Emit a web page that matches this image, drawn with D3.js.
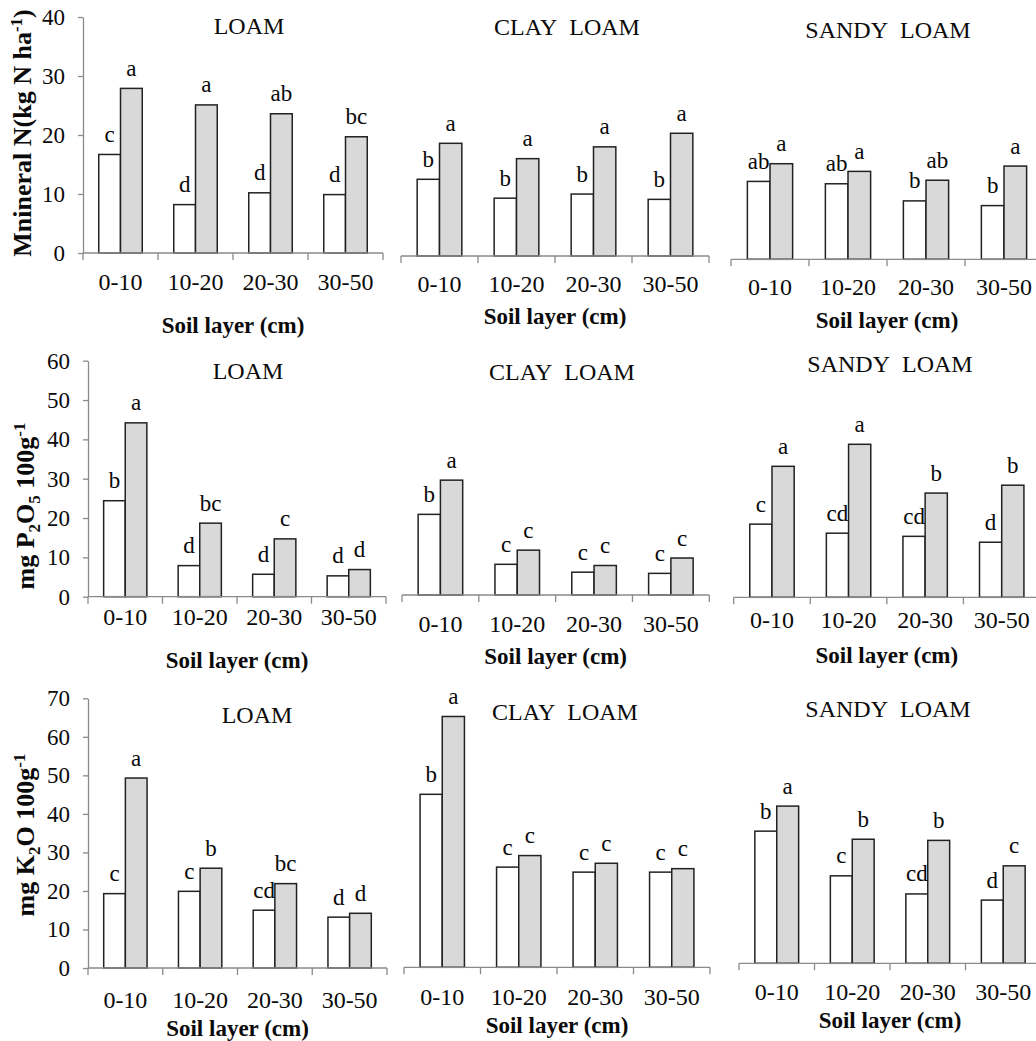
<!DOCTYPE html>
<html>
<head>
<meta charset="utf-8">
<script src="https://cdn.jsdelivr.net/npm/d3@7"></script>
<style>
  body { margin: 0; background: #fff; }
  text, tspan { font-family: "Liberation Serif", "Times New Roman", serif; fill: #0a0a0a; }
</style>
</head>
<body>
<svg id="chart" width="1036" height="1041"></svg>
<script>
// Soil layers (x categories) and soil textures (panel columns)
const layers = ["0-10", "10-20", "20-30", "30-50"];
const soils = ["LOAM", "CLAY\u00A0\u00A0LOAM", "SANDY\u00A0\u00A0LOAM"];

// Mineral N (kg N ha-1): open bars / shaded bars, with significance letters
const nLoamOpen   = [16.7, 8.2, 10.2, 9.9];
const nLoamShaded = [27.9, 25.1, 23.6, 19.7];
const nClayOpen   = [13.0, 9.8, 10.5, 9.6];
const nClayShaded = [19.1, 16.5, 18.5, 20.8];
const nSandyOpen   = [13.2, 12.8, 9.9, 9.1];
const nSandyShaded = [16.2, 14.9, 13.4, 15.8];
const nLoamOpenLbl = ["c", "d", "d", "d"],   nLoamShadedLbl = ["a", "a", "ab", "bc"];
const nClayOpenLbl = ["b", "b", "b", "b"],   nClayShadedLbl = ["a", "a", "a", "a"];
const nSandyOpenLbl = ["ab", "ab", "b", "b"], nSandyShadedLbl = ["a", "a", "ab", "a"];

// P2O5 (mg 100 g-1)
const pLoamOpen   = [24.4, 7.9, 5.7, 5.3];
const pLoamShaded = [44.2, 18.7, 14.7, 6.9];
const pClayOpen   = [20.5, 7.8, 5.8, 5.5];
const pClayShaded = [29.2, 11.4, 7.5, 9.4];
const pSandyOpen   = [18.6, 16.3, 15.5, 14.0];
const pSandyShaded = [33.3, 38.9, 26.5, 28.5];
const pLoamOpenLbl = ["b", "d", "d", "d"],    pLoamShadedLbl = ["a", "bc", "c", "d"];
const pClayOpenLbl = ["b", "c", "c", "c"],    pClayShadedLbl = ["a", "c", "c", "c"];
const pSandyOpenLbl = ["c", "cd", "cd", "d"], pSandyShadedLbl = ["a", "a", "b", "b"];

// K2O (mg 100 g-1)
const kLoamOpen   = [19.3, 19.9, 15.0, 13.2];
const kLoamShaded = [49.3, 25.9, 21.9, 14.2];
const kClayOpen   = [44.9, 26.0, 24.7, 24.7];
const kClayShaded = [65.1, 29.0, 27.0, 25.6];
const kSandyOpen   = [34.3, 22.7, 18.0, 16.4];
const kSandyShaded = [40.8, 32.2, 31.9, 25.3];
const kLoamOpenLbl = ["c", "c", "cd", "d"],   kLoamShadedLbl = ["a", "b", "bc", "d"];
const kClayOpenLbl = ["b", "c", "c", "c"],    kClayShadedLbl = ["a", "c", "c", "c"];
const kSandyOpenLbl = ["b", "c", "cd", "d"],  kSandyShadedLbl = ["a", "b", "b", "c"];

// Y-axis tick values per row
const nTicks = [0, 10, 20, 30, 40];
const pTicks = [0, 10, 20, 30, 40, 50, 60];
const kTicks = [0, 10, 20, 30, 40, 50, 60, 70];

const SERIF = "Liberation Serif, Times New Roman, serif";

// Row definitions: value range, plot height and the three panels' frames
const rows = [
  {
    yMax: 40, ticks: nTicks, h: 236,
    label: [{t: "Mnineral N(kg N ha"}, {t: "-1", sup: true}, {t: ")"}], labelPos: [31, 133],
    series: [
      [nLoamOpen, nLoamShaded, nLoamOpenLbl, nLoamShadedLbl],
      [nClayOpen, nClayShaded, nClayOpenLbl, nClayShadedLbl],
      [nSandyOpen, nSandyShaded, nSandyOpenLbl, nSandyShadedLbl]
    ],
    frames: [
      {x0: 83,  x1: 383,  base: 253,   title: [249, 33.5], catY: 290,   axY: 332.5},
      {x0: 401, x1: 709,  base: 256,   title: [567, 35],   catY: 291.5, axY: 324},
      {x0: 731, x1: 1043, base: 259.3, title: [888, 38],   catY: 295,   axY: 328}
    ]
  },
  {
    yMax: 60, ticks: pTicks, h: 236,
    label: [{t: "mg P"}, {t: "2", sub: true}, {t: "O"}, {t: "5", sub: true}, {t: " 100g"}, {t: "-1", sup: true}], labelPos: [34, 506],
    series: [
      [pLoamOpen, pLoamShaded, pLoamOpenLbl, pLoamShadedLbl],
      [pClayOpen, pClayShaded, pClayOpenLbl, pClayShadedLbl],
      [pSandyOpen, pSandyShaded, pSandyOpenLbl, pSandyShadedLbl]
    ],
    frames: [
      {x0: 88,    x1: 386,    base: 596.7, title: [248, 379],   catY: 625,   axY: 668},
      {x0: 402,   x1: 709.3,  base: 595,   title: [562, 380],   catY: 631.5, axY: 664},
      {x0: 733.7, x1: 1040,   base: 597.3, title: [890, 371.7], catY: 628,   axY: 663}
    ]
  },
  {
    yMax: 70, ticks: kTicks, h: 269.7,
    label: [{t: "mg K"}, {t: "2", sub: true}, {t: "O 100g"}, {t: "-1", sup: true}], labelPos: [34, 835],
    series: [
      [kLoamOpen, kLoamShaded, kLoamOpenLbl, kLoamShadedLbl],
      [kClayOpen, kClayShaded, kClayOpenLbl, kClayShadedLbl],
      [kSandyOpen, kSandyShaded, kSandyOpenLbl, kSandyShadedLbl]
    ],
    frames: [
      {x0: 88,  x1: 387,  base: 968,   title: [257, 723], catY: 1008, axY: 1036},
      {x0: 404, x1: 710,  base: 967.3, title: [565, 720], catY: 1005, axY: 1032.5},
      {x0: 739, x1: 1041, base: 963.3, title: [888, 717], catY: 1000, axY: 1028}
    ]
  }
];

const AXIS = "#8a8a8a";
const svg = d3.select("#chart");

// every text element gets the serif face explicitly
function serif(sel, size, bold) {
  return sel.attr("font-family", SERIF)
    .style("font-family", SERIF)
    .attr("font-size", size)
    .style("font-size", size + "px")
    .style("font-weight", bold ? "bold" : "normal");
}

rows.forEach(row => {
  // rotated y-axis title with sub/superscripts
  const yl = serif(svg.append("text"), 26, true)
    .attr("transform", `translate(${row.labelPos[0]},${row.labelPos[1]}) rotate(-90)`)
    .attr("text-anchor", "middle");
  let shift = 0;
  row.label.forEach(part => {
    const target = part.sup ? -9 : part.sub ? 6 : 0;
    serif(yl.append("tspan"), (part.sup || part.sub) ? 17 : 26, true)
      .attr("dy", target - shift)
      .text(part.t);
    shift = target;
  });

  row.frames.forEach((f, pi) => {
    const [open, shaded, openLbl, shadedLbl] = row.series[pi];
    const g = svg.append("g");

    const x = d3.scaleBand().domain(layers).range([f.x0, f.x1]);
    const y = d3.scaleLinear().domain([0, row.yMax]).range([f.base, f.base - row.h]);
    const bw = x.bandwidth();
    const barW = bw * 0.29;
    const off = (bw - 2 * barW) / 2;

    // y axis only on the first panel of each row
    if (pi === 0) {
      const ax = g.append("g")
        .attr("transform", `translate(${f.x0},0)`)
        .call(d3.axisLeft(y).tickValues(row.ticks).tickSize(5).tickSizeOuter(0).tickPadding(13));
      ax.attr("font-family", SERIF);
      ax.select(".domain").attr("stroke", AXIS).attr("stroke-width", 1.3);
      ax.selectAll(".tick line").attr("stroke", AXIS).attr("stroke-width", 1.3);
      serif(ax.selectAll(".tick text"), 23, false).attr("fill", "#0a0a0a");
    }

    // bars
    const rowsData = layers.map((l, i) => ({l, i}));
    g.selectAll("rect.open").data(rowsData).join("rect")
      .attr("x", d => x(d.l) + off)
      .attr("y", d => y(open[d.i]))
      .attr("width", barW)
      .attr("height", d => y(0) - y(open[d.i]))
      .attr("fill", "#ffffff").attr("stroke", "#222").attr("stroke-width", 1.5);
    g.selectAll("rect.shaded").data(rowsData).join("rect")
      .attr("x", d => x(d.l) + off + barW)
      .attr("y", d => y(shaded[d.i]))
      .attr("width", barW)
      .attr("height", d => y(0) - y(shaded[d.i]))
      .attr("fill", "#d9d9d9").attr("stroke", "#222").attr("stroke-width", 1.5);

    // significance letters above bars
    rowsData.forEach(d => {
      serif(g.append("text"), 23, false)
        .attr("x", x(d.l) + off + barW / 2)
        .attr("y", y(open[d.i]) - 12.5)
        .attr("text-anchor", "middle")
        .text(openLbl[d.i]);
      serif(g.append("text"), 23, false)
        .attr("x", x(d.l) + off + barW * 1.5)
        .attr("y", y(shaded[d.i]) - 12.5)
        .attr("text-anchor", "middle")
        .text(shadedLbl[d.i]);
    });

    // x axis baseline with boundary ticks
    g.append("line")
      .attr("x1", f.x0).attr("x2", f.x1).attr("y1", y(0)).attr("y2", y(0))
      .attr("stroke", AXIS).attr("stroke-width", 1.3);
    const bounds = [f.x0].concat(layers.map(l => x(l) + bw));
    g.selectAll("line.btick").data(bounds).join("line")
      .attr("x1", d => d).attr("x2", d => d)
      .attr("y1", y(0)).attr("y2", y(0) + 7)
      .attr("stroke", AXIS).attr("stroke-width", 1.3);

    // category labels
    serif(g.selectAll("text.cat").data(layers).join("text"), 24, false)
      .attr("x", d => x(d) + bw / 2)
      .attr("y", f.catY)
      .attr("text-anchor", "middle")
      .text(d => d);

    // x-axis title
    serif(g.append("text"), 23, true)
      .attr("x", (f.x0 + f.x1) / 2)
      .attr("y", f.axY)
      .attr("text-anchor", "middle")
      .text("Soil layer (cm)");

    // panel title
    serif(g.append("text"), 24, false)
      .attr("x", f.title[0])
      .attr("y", f.title[1])
      .attr("text-anchor", "middle")
      .text(soils[pi]);
  });
});
</script>
</body>
</html>
